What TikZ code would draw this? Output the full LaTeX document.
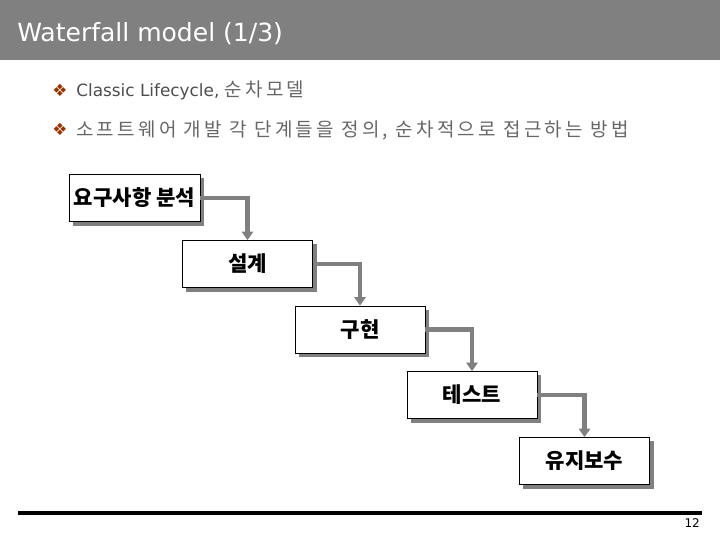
\documentclass[tikz,border=0pt]{standalone}
\usepackage{fontspec}
\setmainfont{DejaVu Sans}
\newfontfamily\kr{Noto Sans CJK KR}
\newfontfamily\krwide[LetterSpace=17]{Noto Sans CJK KR}
\usepackage{tikz}
\usetikzlibrary{arrows.meta,positioning,shadows}
\definecolor{barGray}{HTML}{808080}
\definecolor{bulletRed}{HTML}{993300}
\definecolor{textGray}{HTML}{4D4D4D}

\begin{document}
\begin{tikzpicture}[x=0.025cm,y=-0.025cm,
    stage/.style={draw=black,thin,fill=white,minimum width=3.25cm,minimum height=1.18cm,
        font=\kr\bfseries\fontsize{15}{17}\selectfont,
        drop shadow={shadow xshift=0.1cm,shadow yshift=-0.1cm,fill=black!50,opacity=1}},
    flow/.style={barGray,line width=3pt,-{Triangle[width=8pt,length=6pt]}},
    item/.style={anchor=base west,inner sep=0pt,text=textGray,font=\fontsize{12}{14}\selectfont},
    bulletmark/.style={bulletRed,font=\fontsize{12}{13}\selectfont}]
    \useasboundingbox (0,0) rectangle (720,540);
    \fill[barGray] (0,0) rectangle (720,60);
    \node[anchor=base west,inner sep=0pt,text=white,font=\fontsize{17.8}{20}\selectfont] (title) at (17,41) {Waterfall model (1/3)};
    \node[bulletmark] (dot1) at (60,90) {❖};
    \node[item] (item1) at (76,96) {Classic Lifecycle, {\krwide\fontsize{13.5}{15}\selectfont\color{black!60}순차모델}};
    \node[bulletmark] (dot2) at (60,129) {❖};
    \node[item,text=black!60,font=\krwide\fontsize{13.5}{15}\selectfont] (item2) at (76,136) {소프트웨어 개발 각 단계들을 정의, 순차적으로 접근하는 방법};
    \node[stage] (req) at (134.5,198) {요구사항 분석};
    \node[stage] (design) at (247.5,264) {설계};
    \node[stage] (impl) at (360,329.5) {구현};
    \node[stage] (test) at (472,395) {테스트};
    \node[stage] (maint) at (584.5,461) {유지보수};
    \draw[flow] (req.east) -| (design.north);
    \draw[flow] (design.east) -| (impl.north);
    \draw[flow] (impl.east) -| (test.north);
    \draw[flow] (test.east) -| (maint.north);
    \coordinate (ruleL) at (18,513);
    \coordinate (ruleR) at (702,513);
    \draw[line width=2.2pt] (ruleL) -- (ruleR);
    \node[anchor=base east,inner sep=0pt,font=\fontsize{8.5}{9}\selectfont] (pagenum) at (700,527) {12};
\end{tikzpicture}
\end{document}
